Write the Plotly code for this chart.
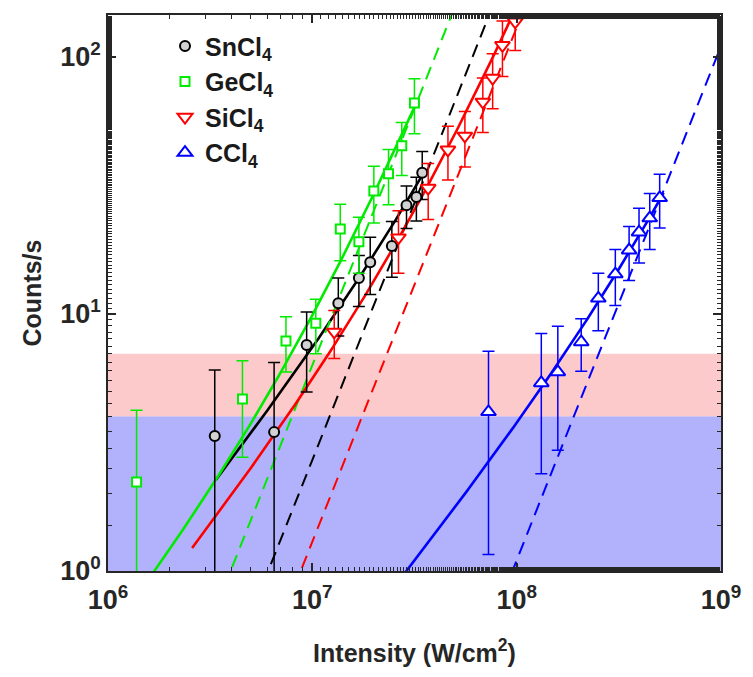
import numpy as np
import plotly.graph_objects as go

# ---------------- data ----------------
sn_I = [3.33e6, 6.50e6, 9.38e6, 1.34e7, 1.69e7, 1.92e7, 2.45e7, 2.89e7, 3.23e7, 3.45e7]
sn_C = [3.35, 3.47, 7.57, 11.0, 13.8, 15.9, 18.4, 26.5, 28.5, 35.4]
sn_E = [2.7, 3.0, 2.6, 2.8, 3.1, 4.0, 4.5, 5.0, 5.5, 7.5]

ge_I = [1.38e6, 4.55e6, 7.43e6, 1.04e7, 1.37e7, 1.69e7, 2.0e7, 2.36e7, 2.74e7, 3.16e7]
ge_C = [2.22, 4.67, 7.85, 9.2, 21.4, 19.1, 30.1, 35.1, 45.1, 66.2]
ge_E = [2.0, 1.9, 1.9, 2.2, 5.3, 4.7, 7.5, 8.5, 10.5, 16.0]

si_I = [1.28e7, 2.64e7, 3.69e7, 4.61e7, 5.58e7, 6.83e7, 7.63e7, 8.52e7, 9.84e7]
si_C = [8.51, 19.8, 30.9, 43.5, 49.3, 66.8, 82.8, 111.0, 137.0]
si_E = [1.8, 5.4, 7.6, 10.3, 12.0, 16.0, 20.0, 27.0, 31.0]

cc_I = [7.28e7, 1.32e8, 1.59e8, 2.07e8, 2.51e8, 3.04e8, 3.55e8, 3.97e8, 4.48e8, 5.01e8]
cc_C = [4.16, 5.39, 5.95, 7.78, 11.5, 14.3, 17.7, 20.8, 23.6, 28.3]
cc_E = [3.0, 3.0, 3.0, 1.8, 2.9, 3.5, 4.2, 5.0, 5.8, 6.7]

# fit curves C = a*I + b*I^2 (solid) ; C = (I/I0)^2 (dashed)
fit_a = {"Sn": 6.35e-7, "Ge": 5.11e-7, "Si": 4.47e-7, "C": 3.33e-8}
fit_b = {"Sn": 1.067e-14, "Ge": 4.78e-14, "Si": 1.122e-14, "C": 4.42e-17}
fit_range = {"Sn": (3.37e6, 3.53e7), "Ge": (1.5e6, 3.16e7), "Si": (2.58e6, 1.1e8), "C": (2.5e7, 5.24e8)}
quad_I0 = {"Sn": 6.08e6, "Ge": 3.98e6, "Si": 8.77e6, "C": 9.53e7}

band_blue = (1, 4)
band_pink = (4, 7)

names = {"Sn": "SnCl<sub>4</sub>", "Ge": "GeCl<sub>4</sub>", "Si": "SiCl<sub>4</sub>", "C": "CCl<sub>4</sub>"}
colors = {"Sn": "black", "Ge": "rgb(0,235,0)", "Si": "rgb(255,0,0)", "C": "rgb(0,0,255)"}

x_tick_vals = [1e6, 1e7, 1e8, 1e9]
x_tick_text = ["10<sup>6</sup>", "10<sup>7</sup>", "10<sup>8</sup>", "10<sup>9</sup>"]
y_tick_vals = [1, 10, 100]
y_tick_text = ["10<sup>0</sup>", "10<sup>1</sup>", "10<sup>2</sup>"]

# ---------------- figure ----------------
fig = go.Figure()

# shaded bands
for (lo, hi), col in [(band_blue, "rgb(178,178,252)"), (band_pink, "rgb(252,202,202)")]:
    fig.add_trace(go.Scatter(x=[1e6, 1e9, 1e9, 1e6, 1e6], y=[lo, lo, hi, hi, lo],
                             mode="lines", fill="toself", fillcolor=col,
                             line=dict(width=0), showlegend=False, hoverinfo="skip"))

order = ["Sn", "Ge", "Si", "C"]
xs_full = np.logspace(6, 9, 400)
for k in order:
    # dashed quadratic reference
    fig.add_trace(go.Scatter(x=xs_full, y=(xs_full / quad_I0[k]) ** 2, mode="lines",
                             line=dict(color=colors[k], width=2, dash="13px,8px"),
                             showlegend=False, hoverinfo="skip"))
    lo, hi = fit_range[k]
    xs = np.logspace(np.log10(lo), np.log10(hi), 200)
    fig.add_trace(go.Scatter(x=xs, y=fit_a[k] * xs + fit_b[k] * xs ** 2, mode="lines",
                             line=dict(color=colors[k], width=2.6),
                             showlegend=False, hoverinfo="skip"))

data = {"Sn": (sn_I, sn_C, sn_E), "Ge": (ge_I, ge_C, ge_E), "Si": (si_I, si_C, si_E), "C": (cc_I, cc_C, cc_E)}
symbols = {"Sn": "circle", "Ge": "square", "Si": "triangle-down", "C": "triangle-up"}
sizes = {"Sn": 10, "Ge": 9, "Si": 13, "C": 13}
fills = {"Sn": "rgb(210,210,210)", "Ge": "white", "Si": "white", "C": "white"}

for k in order:
    I, C, E = data[k]
    fig.add_trace(go.Scatter(
        x=I, y=C, mode="markers", name=names[k],
        marker=dict(symbol=symbols[k], size=sizes[k], color=fills[k],
                    line=dict(color=colors[k], width=2)),
        error_y=dict(type="data", array=E, visible=True, color=colors[k],
                     thickness=1.5, width=6),
    ))

tick_font = dict(family="Liberation Sans, Arial, sans-serif", size=27, color="#262626", weight="bold")
title_font = dict(family="Liberation Sans, Arial, sans-serif", size=25, color="#262626", weight="bold")

fig.update_layout(
    width=753, height=677,
    margin=dict(l=108, r=25, t=15, b=106),
    plot_bgcolor="white", paper_bgcolor="white",
    font=dict(family="Liberation Sans, Arial, sans-serif", color="#262626"),
    showlegend=True,
    legend=dict(x=0.093, y=0.985, xanchor="left", yanchor="top",
                bgcolor="rgba(0,0,0,0)", borderwidth=0,
                font=dict(family="Liberation Sans, Arial, sans-serif", size=25, color="#1a1a1a", weight="bold"),
                tracegroupgap=0),
    xaxis=dict(type="log", range=[6, 9], tickvals=x_tick_vals, ticktext=x_tick_text,
               ticks="inside", ticklen=8, tickwidth=1.5, tickcolor="#262626",
               minor=dict(ticks="inside", ticklen=4, tickwidth=1, tickcolor="#262626", showgrid=False),
               showgrid=False, zeroline=False, showline=True, linecolor="#262626", linewidth=1.5,
               mirror="allticks", tickfont=tick_font, ticklabelstandoff=4,
               title=dict(text="Intensity (W/cm<sup>2</sup>)", font=title_font, standoff=30)),
    yaxis=dict(type="log", range=[0, np.log10(145.6)], tickvals=y_tick_vals, ticktext=y_tick_text,
               ticks="inside", ticklen=8, tickwidth=1.5, tickcolor="#262626",
               minor=dict(ticks="inside", ticklen=4, tickwidth=1, tickcolor="#262626", showgrid=False),
               showgrid=False, zeroline=False, showline=True, linecolor="#262626", linewidth=1.5,
               mirror="allticks", tickfont=tick_font,
               title=dict(text="Counts/s", font=title_font, standoff=12)),
)

fig.write_html("out.html")
